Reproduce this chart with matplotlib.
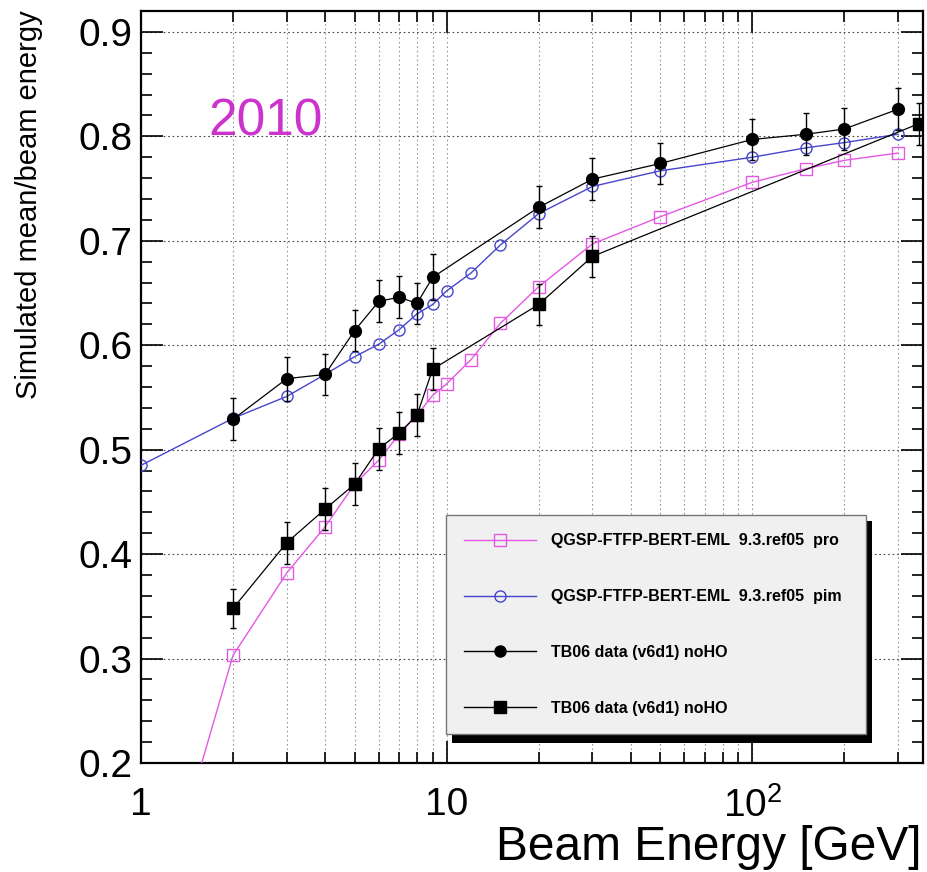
import numpy as np
import matplotlib
matplotlib.use('Agg')
import matplotlib.pyplot as plt
from matplotlib.lines import Line2D
from matplotlib.patches import Rectangle
from matplotlib.ticker import FixedLocator, FixedFormatter, LogLocator, NullFormatter, MultipleLocator

plt.rcParams['font.family'] = ['Liberation Sans', 'DejaVu Sans']
plt.rcParams['mathtext.fontset'] = 'custom'
plt.rcParams['mathtext.rm'] = 'Liberation Sans'

# Simulation, QGSP-FTFP-BERT-EML 9.3.ref05
sim_energy = [1, 2, 3, 4, 5, 6, 7, 8, 9, 10, 12, 15, 20, 30, 50, 100, 150, 200, 300]
pro_sim = [0.0, 0.303, 0.382, 0.426, 0.467, 0.490, 0.515, 0.533, 0.552, 0.563,
           0.586, 0.621, 0.656, 0.697, 0.723, 0.756, 0.769, 0.777, 0.784]
pim_sim = [0.485, 0.530, 0.551, 0.572, 0.589, 0.601, 0.615, 0.630, 0.639, 0.652,
           0.669, 0.696, 0.726, 0.752, 0.767, 0.780, 0.789, 0.794, 0.802]

# TB06 data (v6d1) noHO
pim_data_energy = [2, 3, 4, 5, 6, 7, 8, 9, 20, 30, 50, 100, 150, 200, 300]
pim_data = [0.529, 0.568, 0.572, 0.614, 0.642, 0.646, 0.640, 0.665, 0.732, 0.759,
            0.774, 0.797, 0.802, 0.807, 0.826]
pim_err = [0.02, 0.021, 0.02, 0.02, 0.02, 0.02, 0.02, 0.022, 0.02, 0.02,
           0.02, 0.02, 0.02, 0.02, 0.02]

pro_data_energy = [2, 3, 4, 5, 6, 7, 8, 9, 20, 30, 350]
pro_data = [0.348, 0.411, 0.443, 0.467, 0.501, 0.516, 0.533, 0.577, 0.639, 0.685, 0.812]
pro_err = [0.019, 0.02, 0.02, 0.02, 0.02, 0.02, 0.02, 0.02, 0.02, 0.02, 0.02]

labels = ['QGSP-FTFP-BERT-EML  9.3.ref05  pro',
          'QGSP-FTFP-BERT-EML  9.3.ref05  pim',
          'TB06 data (v6d1) noHO',
          'TB06 data (v6d1) noHO']

pink = '#e458e4'
blue = '#4646cc'

fig = plt.figure(figsize=(9.28, 8.72), dpi=100)
ax = fig.add_axes([141 / 928, 1 - 763 / 872, (923 - 141) / 928, (763 - 11) / 872])

ax.plot(sim_energy, pro_sim, color=pink, lw=1.0, marker='s', ms=8,
        mfc='none', mec=pink, mew=1.0, zorder=3)
ax.plot(sim_energy, pim_sim, color=blue, lw=1.0, marker='o', ms=8,
        mfc='none', mec=blue, mew=1.0, zorder=3)
ax.errorbar(pim_data_energy, pim_data, yerr=pim_err, color='black', lw=0.9,
            marker='o', ms=8.5, capsize=2.5, elinewidth=1.0, zorder=4)
ax.errorbar(pro_data_energy, pro_data, yerr=pro_err, color='black', lw=0.9,
            marker='s', ms=8.5, capsize=2.5, elinewidth=1.0, zorder=4)

ax.set_xscale('log')
ax.set_xlim(1, 362)
ax.set_ylim(0.2, 0.92)

ax.xaxis.set_major_locator(FixedLocator([1, 10, 100]))
ax.xaxis.set_major_formatter(FixedFormatter(['1', '10', r'$\mathregular{10^{2}}$']))
ax.xaxis.set_minor_locator(LogLocator(base=10, subs=np.arange(2, 10)))
ax.xaxis.set_minor_formatter(NullFormatter())
ax.yaxis.set_major_locator(MultipleLocator(0.1))
ax.yaxis.set_minor_locator(MultipleLocator(0.02))
ax.yaxis.set_major_formatter(plt.FuncFormatter(lambda v, p: f'{v:.1f}'))

ax.tick_params(which='both', direction='in', top=True, right=True, width=1.2)
ax.tick_params(which='major', length=16, labelsize=28)
ax.tick_params(which='minor', length=8)
ax.tick_params(axis='x', which='major', pad=17)
ax.tick_params(axis='y', which='major', pad=6)

for sp in ax.spines.values():
    sp.set_linewidth(1.6)

ax.set_axisbelow(True)
ax.grid(which='both', axis='x', color='#999999', linestyle=(0, (1.5, 2.5)), lw=0.8)
ax.grid(which='major', axis='y', color='#444444', linestyle=(0, (1.5, 2.5)), lw=0.8)

ax.text(208 / 928, 1 - 135 / 872, '2010', transform=fig.transFigure,
        color='#cc33cc', fontsize=37, ha='left', va='baseline')

# legend
handles = [
    Line2D([], [], color=pink, lw=1.0, marker='s', ms=8, mfc='none', mec=pink),
    Line2D([], [], color=blue, lw=1.0, marker='o', ms=8, mfc='none', mec=blue),
    Line2D([], [], color='black', lw=1.0, marker='o', ms=8),
    Line2D([], [], color='black', lw=1.0, marker='s', ms=8),
]
leg_x0, leg_y0, leg_x1, leg_y1 = 446, 515, 866, 737
shadow = Rectangle(((leg_x0 + 6) / 928, 1 - (leg_y1 + 6) / 872),
                   (leg_x1 - leg_x0) / 928, (leg_y1 - leg_y0) / 872,
                   transform=fig.transFigure, facecolor='black', edgecolor='none',
                   zorder=6, clip_on=False)
ax.add_patch(shadow)
leg = ax.legend(handles, labels, loc='upper left',
                bbox_to_anchor=(leg_x0 / 928, 1 - leg_y0 / 872,
                                (leg_x1 - leg_x0) / 928, 0),
                bbox_transform=fig.transFigure, mode='expand', borderaxespad=0,
                frameon=True, fancybox=False, framealpha=1, facecolor='#f0f0f0',
                edgecolor='#777777', handlelength=4.5, handletextpad=0.9,
                borderpad=1.15, labelspacing=2.55,
                prop={'family': 'Liberation Sans', 'weight': 'bold', 'size': 11.5})
leg.set_zorder(7)
leg.get_frame().set_linewidth(1.0)

fig.text(29 / 928, 1 - 10 / 872, 'Simulated mean/beam energy', rotation=90,
         ha='center', va='top', fontsize=21)
fig.text(922 / 928, 1 - 860 / 872, 'Beam Energy [GeV]', ha='right',
         va='baseline', fontsize=34.5)

fig.savefig('out.png', dpi=100)
